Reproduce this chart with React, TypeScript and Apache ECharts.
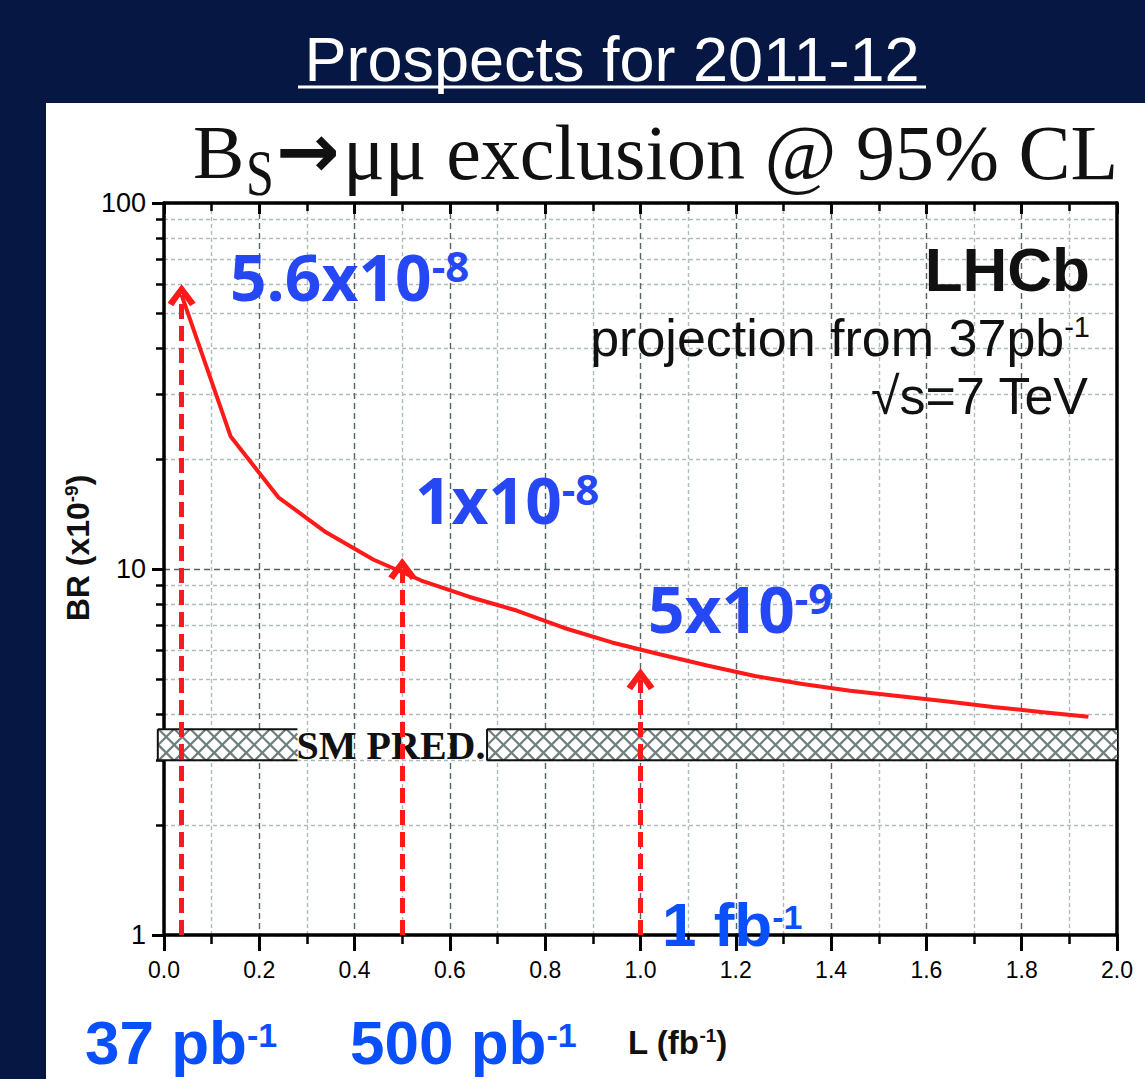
import React, { useEffect, useRef } from 'react';
import * as echarts from 'echarts';

// Expected 95% CL upper limit on BR(Bs -> mu mu), in units of 1e-9, vs integrated luminosity (fb^-1)
const lumi = [0.037, 0.14, 0.24, 0.34, 0.44, 0.54, 0.64, 0.74, 0.84, 0.94, 1.04, 1.14, 1.24, 1.34, 1.44, 1.54, 1.64, 1.74, 1.84, 1.94];
const brLimit = [56, 23, 15.7, 12.6, 10.6, 9.3, 8.4, 7.7, 6.9, 6.3, 5.85, 5.45, 5.1, 4.85, 4.65, 4.5, 4.35, 4.2, 4.07, 3.95];

// Luminosity milestones (fb^-1) and the limits quoted at them (units of 1e-9)
const milestoneLumi = [0.037, 0.5, 1.0];
const milestoneLimit = [56, 10, 5];

// Standard Model prediction band (units of 1e-9) and the L ranges it is drawn over
const smBand = [3.0, 3.65];
const smSegments = [[-0.013, 0.28], [0.678, 2.0]];

const xMin = 0;
const xMax = 2.0;
const xStep = 0.2;
const yMin = 1;
const yMax = 100;

const BLUE_LIMIT = '#2547f4';
const BLUE_LUMI = '#0a50fa';
const RED = '#ff1a1a';
const SANS = '"Liberation Sans", Arial, sans-serif';
const SERIF = '"Liberation Serif", "Times New Roman", serif';
const CALI = '"Open Sans", "Liberation Sans", sans-serif';

// Text placement (pixels)
const limitLabelPos = [[230, 244], [415, 467], [648, 576]];
const lumiLabelPos = [[85, 1018], [350, 1018], [662, 900]];

function sci(v: number) {
  const e = Math.floor(Math.log10(v) + 1e-9);
  const m = Number((v / Math.pow(10, e)).toPrecision(3));
  return { m: String(m), e: String(e - 9) };
}

function lumiText(l: number) {
  return l < 1 ? { n: String(Math.round(l * 1000)), u: 'pb' } : { n: String(l), u: 'fb' };
}

function rs(size: number, weight: string, family: string, fill: string, extra: any = {}) {
  return { fontSize: size, lineHeight: size, fontWeight: weight, fontFamily: family, fill, ...extra };
}

// open chevron arrow head
const chevron = 'path://M0,8.6 L5,0 L10,8.6 L8,10.2 L5,4.6 L2,10.2 Z';

function buildOption() {
  const graphics: any[] = [
    { type: 'rect', z: -10, silent: true, shape: { x: 46, y: 103, width: 1099, height: 976 }, style: { fill: '#ffffff' } },
    {
      type: 'text', x: 612, y: 59, z: 10,
      style: { text: 'Prospects for 2011-12', fontSize: 63, fontFamily: SANS, fill: '#ffffff', align: 'center', verticalAlign: 'middle' },
    },
    { type: 'line', z: 10, shape: { x1: 298, y1: 87, x2: 926, y2: 87 }, style: { stroke: '#ffffff', lineWidth: 3 } },
    // Bs -> mu mu exclusion @ 95% CL
    { type: 'text', x: 193, y: 152, z: 10, style: { text: 'B', fontSize: 77, fontFamily: SERIF, fill: '#111', align: 'left', verticalAlign: 'middle' } },
    {
      type: 'text', x: 246, y: 178, z: 10, originX: 0, originY: 17, scaleY: 1.3,
      style: { text: 'S', fontSize: 50, fontFamily: SERIF, fill: '#111', align: 'left', verticalAlign: 'middle' },
    },
    { type: 'text', x: 276, y: 150, z: 10, style: { text: '→', fontSize: 76, fontWeight: 'bold', fontFamily: '"DejaVu Sans", sans-serif', fill: '#111', align: 'left', verticalAlign: 'middle' } },
    { type: 'text', x: 343, y: 152, z: 10, style: { text: 'μμ exclusion @ 95% CL', fontSize: 78, fontFamily: SERIF, fill: '#111', align: 'left', verticalAlign: 'middle' } },
    // experiment block
    { type: 'text', x: 1090, y: 269, z: 10, style: { text: 'LHCb', fontSize: 62, fontWeight: 'bold', fontFamily: SANS, fill: '#111', align: 'right', verticalAlign: 'middle' } },
    {
      type: 'text', x: 1090, y: 312, z: 10,
      style: {
        text: '{b|projection from 37pb}{s|-1}', align: 'right', verticalAlign: 'top',
        rich: { b: rs(52, 'normal', SANS, '#111'), s: rs(29, 'normal', SANS, '#111', { verticalAlign: 'top' }) },
      },
    },
    { type: 'text', x: 1088, y: 396, z: 10, style: { text: '√s=7 TeV', fontSize: 52, fontFamily: SANS, fill: '#111', align: 'right', verticalAlign: 'middle' } },
    // axis titles
    {
      type: 'text', x: 78, y: 548, rotation: Math.PI / 2, z: 10,
      style: {
        text: '{b|BR (x10}{s|-9}{b|)}', align: 'center', verticalAlign: 'middle',
        rich: { b: rs(32, 'bold', SANS, '#111'), s: rs(19, 'bold', SANS, '#111', { verticalAlign: 'top' }) },
      },
    },
    {
      type: 'text', x: 628, y: 1026, z: 10,
      style: {
        text: '{b|L (fb}{s|-1}{b|)}', align: 'left', verticalAlign: 'top',
        rich: { b: rs(33, 'bold', SANS, '#111'), s: rs(19, 'bold', SANS, '#111', { verticalAlign: 'top' }) },
      },
    },
    // SM prediction tag inside the band gap
    { type: 'text', x: 391, y: 745, z: 3, style: { text: 'SM PRED.', fontSize: 40, fontWeight: 'bold', fontFamily: SERIF, fill: '#111', align: 'center', verticalAlign: 'middle' } },
  ];

  milestoneLimit.forEach((v, i) => {
    const { m, e } = sci(v);
    graphics.push({
      type: 'text', x: limitLabelPos[i][0], y: limitLabelPos[i][1], z: 20,
      style: {
        text: `{b|${m}x10}{s|${e}}`, align: 'left', verticalAlign: 'top',
        rich: { b: rs(64, 'bold', CALI, BLUE_LIMIT), s: rs(42, 'bold', CALI, BLUE_LIMIT, { verticalAlign: 'top' }) },
      },
    });
  });

  milestoneLumi.forEach((l, i) => {
    const { n, u } = lumiText(l);
    graphics.push({
      type: 'text', x: lumiLabelPos[i][0], y: lumiLabelPos[i][1], z: 20,
      style: {
        text: `{b|${n} ${u}}{s|-1}`, align: 'left', verticalAlign: 'top',
        rich: {
          b: rs(62, 'bold', SANS, BLUE_LUMI, { lineHeight: 48 }),
          s: rs(34, 'bold', SANS, BLUE_LUMI, { lineHeight: 26, verticalAlign: 'top' }),
        },
      },
    });
  });

  const majorGrid = { show: true, lineStyle: { color: '#566464', width: 1.4, type: [6, 4] } };
  const minorGrid = { show: true, lineStyle: { color: '#b0bcbc', width: 1.4, type: [4, 3] } };

  return {
    animation: false,
    backgroundColor: '#061743',
    grid: { left: 164, top: 203, width: 953, height: 732, containLabel: false, outerBoundsMode: 'none' },
    xAxis: [
      {
        type: 'value', position: 'bottom', min: xMin, max: xMax, interval: xStep,
        axisLine: { show: true, onZero: false, lineStyle: { color: '#000', width: 3.5 } },
        axisTick: { show: true, length: 16, lineStyle: { color: '#000', width: 3 } },
        minorTick: { show: true, splitNumber: 2, length: 9, lineStyle: { color: '#000', width: 2.5 } },
        axisLabel: { margin: 23, fontSize: 23, fontFamily: SANS, color: '#000', formatter: (v: number) => v.toFixed(1) },
        splitLine: majorGrid,
        minorSplitLine: minorGrid,
      },
      {
        type: 'value', position: 'top', min: xMin, max: xMax, interval: xStep,
        axisLine: { show: true, onZero: false, lineStyle: { color: '#000', width: 3.5 } },
        axisTick: { show: true, inside: true, length: 11, lineStyle: { color: '#000', width: 3 } },
        minorTick: { show: true, splitNumber: 2, length: 8, lineStyle: { color: '#000', width: 2.5 } },
        axisLabel: { show: false },
        splitLine: { show: false },
      },
    ],
    yAxis: [
      {
        type: 'log', logBase: 10, position: 'left', min: yMin, max: yMax,
        axisLine: { show: true, onZero: false, lineStyle: { color: '#000', width: 3.5 } },
        axisTick: { show: true, length: 12, lineStyle: { color: '#000', width: 3 } },
        minorTick: { show: true, splitNumber: 9, length: 8, lineStyle: { color: '#000', width: 2.5 } },
        axisLabel: { margin: 18, fontSize: 27, fontFamily: SANS, color: '#000', formatter: (v: number) => String(Math.round(v)) },
        splitLine: majorGrid,
        minorSplitLine: minorGrid,
      },
      {
        type: 'log', logBase: 10, position: 'right', min: yMin, max: yMax,
        axisLine: { show: true, onZero: false, lineStyle: { color: '#000', width: 3.5 } },
        axisTick: { show: false },
        axisLabel: { show: false },
        splitLine: { show: false },
      },
    ],
    graphic: graphics,
    series: [
      {
        type: 'custom',
        name: 'SM prediction',
        z: 2,
        silent: true,
        clip: false,
        xAxisIndex: 0,
        yAxisIndex: 0,
        data: smSegments.map(([a, b]) => [a, b, smBand[0], smBand[1]]),
        encode: { x: [0, 1], y: [2, 3] },
        renderItem: (_params: any, api: any) => {
          const tl = api.coord([api.value(0), api.value(3)]);
          const br = api.coord([api.value(1), api.value(2)]);
          const x0 = tl[0], y0 = tl[1], x1 = br[0], y1 = br[1];
          const h = y1 - y0;
          const hatch = { stroke: '#6f7f7d', lineWidth: 2.2 };
          const children: any[] = [
            { type: 'rect', shape: { x: x0, y: y0, width: x1 - x0, height: h }, style: { fill: '#ffffff' } },
          ];
          const step = 16;
          for (let c = x0 - h; c < x1; c += step) {
            const xa = Math.max(x0, c);
            const xb = Math.min(x1, c + h);
            if (xb <= xa) continue;
            children.push({ type: 'line', shape: { x1: xa, y1: y0 + (xa - c), x2: xb, y2: y0 + (xb - c) }, style: hatch });
            children.push({ type: 'line', shape: { x1: xa, y1: y1 - (xa - c), x2: xb, y2: y1 - (xb - c) }, style: hatch });
          }
          const edge = { stroke: '#111', lineWidth: 2 };
          children.push({ type: 'line', shape: { x1: x0, y1: y0, x2: x1, y2: y0 }, style: edge });
          children.push({ type: 'line', shape: { x1: x0, y1: y1, x2: x1, y2: y1 }, style: edge });
          children.push({ type: 'line', shape: { x1: x0, y1: y0, x2: x0, y2: y1 }, style: edge });
          return { type: 'group', children };
        },
      },
      {
        type: 'line',
        name: 'Expected limit',
        z: 5,
        xAxisIndex: 0,
        yAxisIndex: 0,
        data: lumi.map((l, i) => [l, brLimit[i]]),
        showSymbol: false,
        symbol: 'none',
        lineStyle: { color: RED, width: 4 },
        markLine: {
          silent: true,
          symbol: ['none', chevron],
          symbolSize: [28, 22],
          label: { show: false },
          lineStyle: { color: RED, width: 5, type: [15, 7] },
          data: milestoneLumi.map((l, i) => [
            { coord: [l, yMin] },
            { coord: [l, milestoneLimit[i]] },
          ]),
        },
      },
    ],
  };
}

export default function App() {
  const ref = useRef<HTMLDivElement>(null);
  useEffect(() => {
    document.body.style.margin = '0';
    const chart = echarts.init(ref.current!, null, { renderer: 'svg' });
    chart.setOption(buildOption() as any);
    return () => chart.dispose();
  }, []);
  return <div ref={ref} style={{ width: 1145, height: 1079 }} />;
}
